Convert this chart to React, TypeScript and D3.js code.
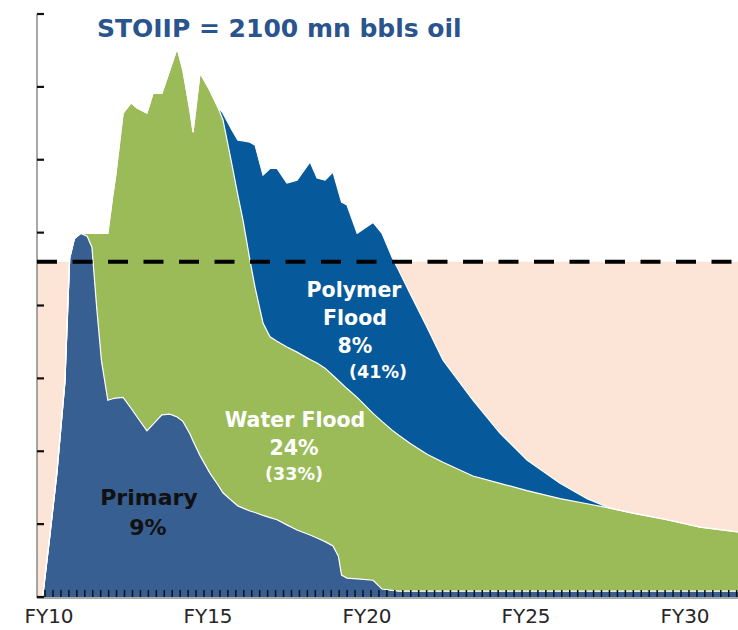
import React from "react";
import * as d3 from "d3";

// Time axis (fiscal year, decimal) and production by recovery stage (arbitrary units, 1 = one y-tick)
const periods = [9.8, 10.0, 10.25, 10.5, 10.65, 10.8, 11.0, 11.2, 11.35, 11.5, 11.65, 11.85, 12.0, 12.1, 12.33, 12.58, 12.77, 13.08, 13.27, 13.55, 13.8, 14.03, 14.21, 14.43, 14.53, 14.75, 15.06, 15.31, 15.47, 15.75, 15.94, 16.1, 16.32, 16.48, 16.73, 16.95, 17.17, 17.48, 17.8, 18.21, 18.43, 18.68, 18.93, 19.1, 19.2, 19.37, 19.69, 20.19, 20.47, 20.79, 21.0, 21.35, 21.89, 22.39, 23.33, 24.18, 25.03, 26.07, 26.92, 27.64, 28.36, 29.43, 30.47, 31.7];
const primary = [0, 0.74, 1.71, 2.95, 4.65, 4.92, 4.99, 4.95, 4.8, 3.97, 3.24, 2.7, 2.72, 2.73, 2.74, 2.59, 2.47, 2.28, 2.37, 2.5, 2.51, 2.47, 2.41, 2.24, 2.14, 1.94, 1.7, 1.54, 1.43, 1.32, 1.25, 1.22, 1.18, 1.16, 1.12, 1.09, 1.06, 0.99, 0.92, 0.85, 0.81, 0.76, 0.7, 0.56, 0.3, 0.26, 0.25, 0.23, 0.11, 0.09, 0.08, 0.08, 0.08, 0.08, 0.08, 0.08, 0.08, 0.08, 0.08, 0.08, 0.08, 0.08, 0.08, 0.08];
const waterFlood = [0, 0, 0, 0, 0, 0, 0, 0.04, 0.19, 1.02, 1.75, 2.29, 2.77, 3.06, 3.9, 4.19, 4.24, 4.36, 4.54, 4.41, 4.72, 5.06, 4.82, 4.44, 4.24, 5.25, 5.25, 5.18, 5.12, 4.62, 4.26, 3.95, 3.44, 3.09, 2.64, 2.48, 2.45, 2.44, 2.44, 2.41, 2.4, 2.38, 2.34, 2.41, 2.63, 2.6, 2.49, 2.29, 2.3, 2.2, 2.14, 2.03, 1.88, 1.77, 1.58, 1.48, 1.38, 1.27, 1.2, 1.14, 1.07, 0.98, 0.88, 0.81];
const polymerFlood = [0, 0, 0, 0, 0, 0, 0, 0, 0, 0, 0, 0, 0, 0, 0, 0, 0, 0, 0, 0, 0, 0, 0, 0, 0, 0, 0, 0, 0.09, 0.47, 0.76, 1.09, 1.62, 1.95, 2.03, 2.31, 2.37, 2.25, 2.36, 2.71, 2.54, 2.58, 2.79, 2.6, 2.49, 2.52, 2.25, 2.62, 2.58, 2.37, 2.26, 2.06, 1.74, 1.4, 1.04, 0.69, 0.42, 0.21, 0.07, 0, 0, 0, 0, 0];

const seriesKeys = ["primary", "waterFlood", "polymerFlood"];
const seriesColors = ["#375F91", "#9BBB59", "#065A9B"];

const thresholdLevel = 4.6;
const yTickValues = [0, 1, 2, 3, 4, 5, 6, 7, 8];
const xLabelYears = [10, 15, 20, 25, 30];
const xLabels = ["FY10", "FY15", "FY20", "FY25", "FY30"];
const title = "STOIIP = 2100 mn bbls oil";

const W = 738;
const H = 630;
const axisX = 37;
const FONT = "'DejaVu Sans', Verdana, sans-serif";

export default function App() {
  const x = d3.scaleLinear().domain([10, 30]).range([49, 685]);
  const y = d3.scaleLinear().domain([0, 8]).range([597, 14]);

  const rows = periods.map((t, i) => ({
    t,
    primary: primary[i],
    waterFlood: waterFlood[i],
    polymerFlood: polymerFlood[i],
  }));
  const stacked = d3.stack<any>().keys(seriesKeys)(rows);

  const area = d3
    .area<any>()
    .x((d) => x(d.data.t))
    .y0((d) => y(d[0]))
    .y1((d) => y(d[1]));
  const topLine = d3
    .line<any>()
    .x((d) => x(d.data.t))
    .y((d) => y(d[1]));

  const minorTicks = d3.range(9.875, 31.7, 0.25);

  return (
    <svg
      width={W}
      height={H}
      style={{ position: "absolute", left: 0, top: 0, background: "#fff" }}
    >
      <defs>
        <clipPath id="plotClip">
          <rect x={axisX} y={0} width={W - axisX} height={y(0) + 0.5} />
        </clipPath>
      </defs>
      <rect
        x={axisX}
        y={y(thresholdLevel)}
        width={W - axisX}
        height={y(0) - y(thresholdLevel)}
        fill="#FCE4D6"
      />
      <g clipPath="url(#plotClip)">
        {stacked.map((s, i) => (
          <path key={seriesKeys[i]} d={area(s) || ""} fill={seriesColors[i]} />
        ))}
        {stacked.map((s, i) => (
          <path
            key={"l" + seriesKeys[i]}
            d={topLine(s) || ""}
            fill="none"
            stroke="#ffffff"
            strokeWidth={1.2}
          />
        ))}
      </g>
      {/* x axis */}
      <line x1={axisX} x2={W} y1={y(0) + 1} y2={y(0) + 1} stroke="#8a8a8a" strokeWidth={1.5} />
      {minorTicks.map((t) => (
        <line
          key={"xt" + t}
          x1={x(t)}
          x2={x(t)}
          y1={y(0) - 7}
          y2={y(0)}
          stroke="#111"
          strokeWidth={1.5}
        />
      ))}
      {xLabelYears.map((yr, i) => (
        <text
          key={"xl" + yr}
          x={x(yr)}
          y={623}
          textAnchor="middle"
          fontFamily={FONT}
          fontSize={20}
          fill="#262626"
        >
          {xLabels[i]}
        </text>
      ))}
      {/* y axis */}
      <line x1={axisX} x2={axisX} y1={y(8)} y2={y(0) + 1} stroke="#8a8a8a" strokeWidth={1.5} />
      {yTickValues.map((v) => (
        <line
          key={"yt" + v}
          x1={axisX}
          x2={axisX + 7}
          y1={y(v)}
          y2={y(v)}
          stroke="#111"
          strokeWidth={2.2}
        />
      ))}
      {/* threshold dashed line */}
      <line
        x1={axisX}
        x2={W}
        y1={y(thresholdLevel)}
        y2={y(thresholdLevel)}
        stroke="#000"
        strokeWidth={4}
        strokeDasharray="20,15.5"
      />
      {/* title */}
      <text x={97} y={37} fontFamily={FONT} fontWeight="bold" fontSize={25} fill="#29548E">
        {title}
      </text>
      {/* labels */}
      <g fontFamily={FONT} fontWeight="bold" textAnchor="middle">
        <text x={354} y={297} fontSize={20.5} fill="#fff">Polymer</text>
        <text x={355} y={325} fontSize={20.5} fill="#fff">Flood</text>
        <text x={355} y={353} fontSize={20.5} fill="#fff">8%</text>
        <text x={378} y={378} fontSize={17.5} fill="#fff">(41%)</text>
        <text x={295} y={427} fontSize={20.5} fill="#fff">Water Flood</text>
        <text x={294} y={455} fontSize={20.5} fill="#fff">24%</text>
        <text x={294} y={480} fontSize={17.5} fill="#fff">(33%)</text>
        <text x={149} y={505} fontSize={22} fill="#111">Primary</text>
        <text x={148} y={535} fontSize={22} fill="#111">9%</text>
      </g>
    </svg>
  );
}
